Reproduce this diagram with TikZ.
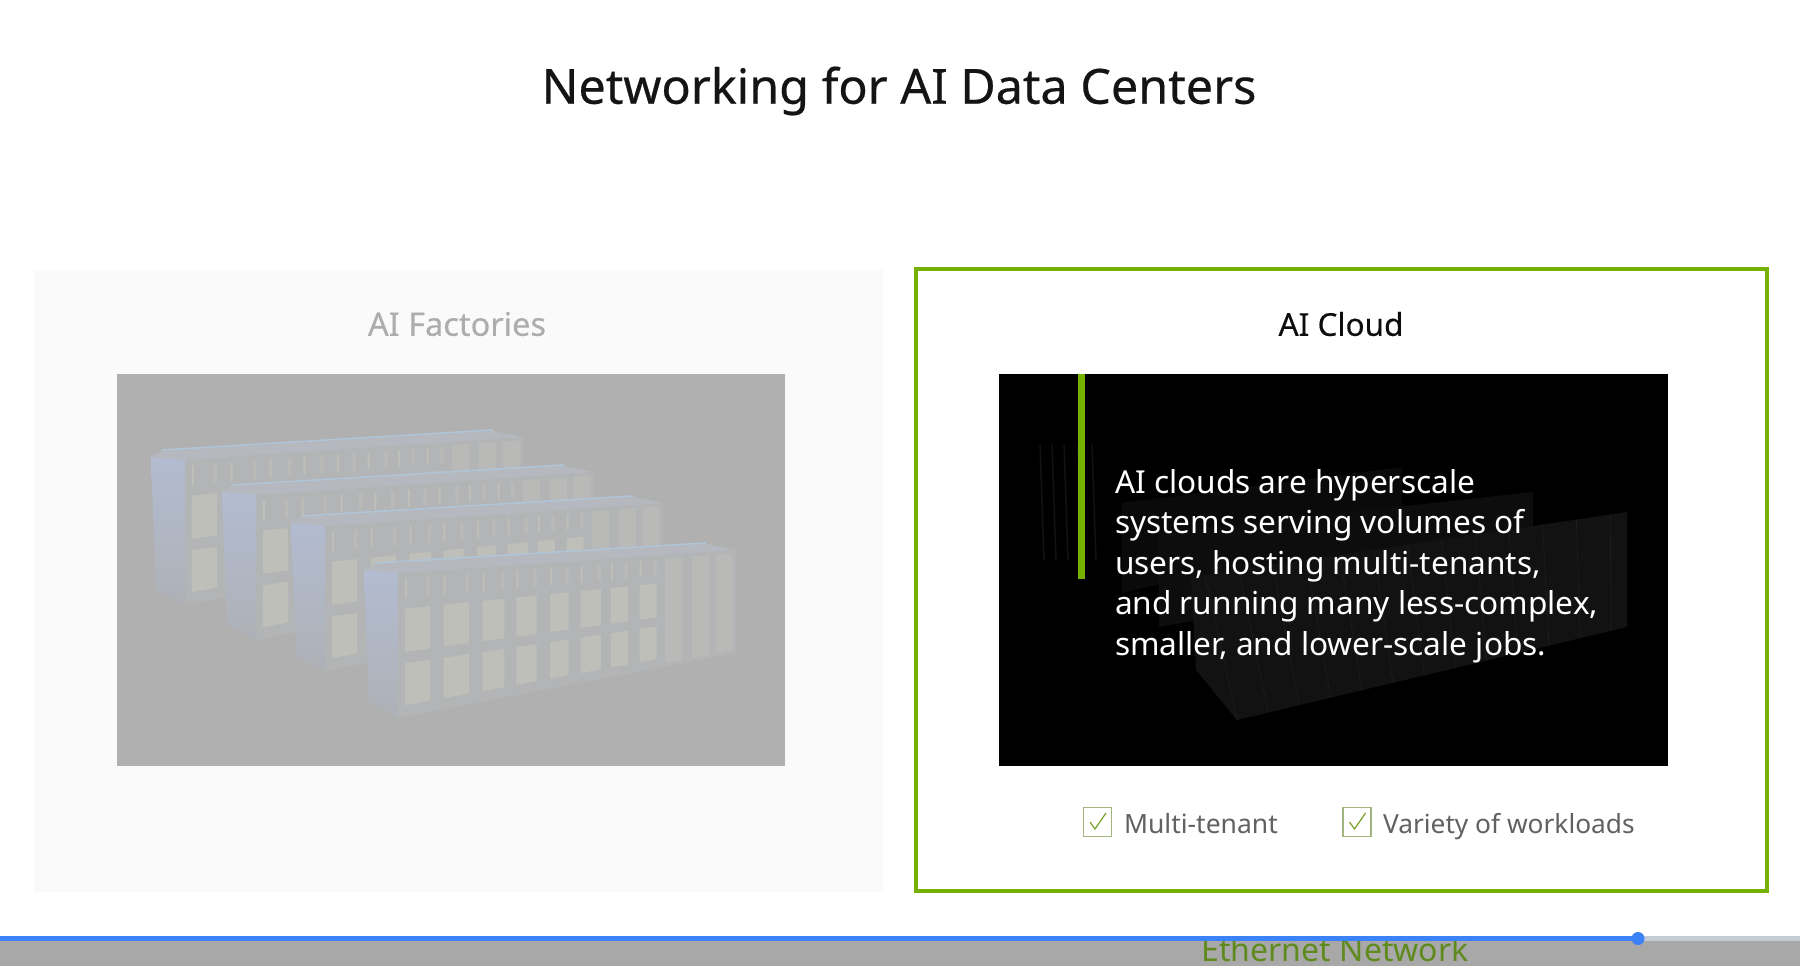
\documentclass[tikz,border=0pt]{standalone}
\usepackage{fontspec}
\setmainfont{Noto Sans}
\definecolor{nvgreen}{HTML}{76B000}
\definecolor{bluebar}{HTML}{3B82F6}
\definecolor{greybar}{HTML}{C5CBD5}
\definecolor{footbar}{HTML}{A8A8A8}
\definecolor{ethertext}{HTML}{5F8A1E}
\definecolor{imggrey}{HTML}{B0B0B0}
\definecolor{rackface}{HTML}{B3B4B5}
\definecolor{rackwin}{HTML}{BFBFBA}
\definecolor{rackstripe}{HTML}{B9B9B7}
\definecolor{racktop}{HTML}{B5B9BF}
\definecolor{rackedge}{HTML}{B0C4D8}
\definecolor{racksidea}{HTML}{B2BBD0}
\definecolor{racksideb}{HTML}{AEB1B6}
\tikzset{
  txt/.style={inner sep=0pt,outer sep=0pt},
  panelbox/.style={fill=#1,draw=none},
  chk/.style={draw=nvgreen!45!gray!70,fill=white,line width=1.6pt},
  chkmark/.style={draw=nvgreen!70!gray,line width=1.2pt},
  darkrack/.style={fill=#1,draw=none}
}
\newcommand{\wnd}[5][rackwin]{%
  \fill[#1] ({398+338*(#2)},{573-23*(#2)+(#4)*(145-42*(#2))})
    -- ({398+338*(#3)},{573-23*(#3)+(#4)*(145-42*(#3))})
    -- ({398+338*(#3)},{573-23*(#3)+(#5)*(145-42*(#3))})
    -- ({398+338*(#2)},{573-23*(#2)+(#5)*(145-42*(#2))}) -- cycle;}
\newcommand{\rackunit}[2]{%
  \begin{scope}[shift={(#1,#2)}]
    \fill[rackface] (398,573) -- (736,550) -- (736,653) -- (398,718) -- cycle;
    \fill[racktop] (364,570) -- (375,564) -- (706,544) -- (736,550) -- (398,573) -- cycle;
    \draw[rackedge,line width=1.6pt] (375,563) -- (706,543);
    \shade[top color=racksidea,bottom color=racksideb] (364,570) -- (398,573) -- (398,718) -- (369,703) -- cycle;
    \foreach \ua/\ub in {.02/.095,.135/.21,.25/.315,.35/.41,.45/.505,.54/.60,.63/.68,.715/.765}{
      \wnd{\ua}{\ub}{.25}{.55}
      \wnd{\ua}{\ub}{.63}{.92}
      \wnd[rackwin]{\ua}{\ua+.006}{.04}{.18}
      \wnd[rackstripe]{\ub-.01}{\ub}{.04}{.18}
    }
    \foreach \ua/\ub in {.79/.84,.87/.92,.94/.99}{
      \wnd[rackstripe]{\ua}{\ub}{.03}{.97}
    }
  \end{scope}}
\begin{document}
\begin{tikzpicture}[x=1pt,y=-1pt]
\useasboundingbox (0,0) rectangle (1800,966);
\fill[white] (0,0) rectangle (1800,966);
% title
\node[txt,font=\fontsize{48.5}{56}\selectfont\addfontfeatures{FakeBold=0.4},text=black!92] (title) at (899,91) {Networking for AI Data Centers};
% panels
\fill[panelbox=black!2] (34,270) rectangle (883,892);
\draw[nvgreen,line width=3.2pt,fill=white] (916,269) rectangle (1767,891);
\node[txt,font=\fontsize{32.5}{38}\selectfont\addfontfeatures{FakeBold=0.3},text=black!32] (factories) at (457,324) {AI Factories};
\node[txt,font=\fontsize{31.5}{38}\selectfont\addfontfeatures{FakeBold=0.3},text=black!95] (cloud) at (1341,324) {AI Cloud};
% left image
\fill[imggrey] (117,374) rectangle (785,766);
\rackunit{-213}{-113}
\rackunit{-142}{-78}
\rackunit{-73}{-47}
\rackunit{0}{0}
% right image
\fill[black] (999,374) rectangle (1668,766);
\begin{scope}
  \clip (999,374) rectangle (1668,766);
  \foreach \xa in {1040,1052,1064,1078,1092}{
    \draw[black!93!white,line width=1.5pt] (\xa,445) -- (\xa+4,560);
  }
  \fill[darkrack=black!96!white] (1122,503) -- (1402,467) -- (1402,527) -- (1122,593) -- cycle;
  \fill[darkrack=black!95!white] (1159,533) -- (1533,492) -- (1533,560) -- (1159,627) -- cycle;
  \fill[darkrack=black!93!white] (1191,577) -- (1627,512) -- (1627,627) -- (1237,720) -- (1196,670) -- cycle;
  \foreach \t in {0,.08,...,1.01}{
    \draw[black!89!white,line width=.8pt]
      ({1205+422*\t},{575-63*\t}) -- ({1237+390*\t},{720-93*\t});
  }
\end{scope}
\fill[nvgreen] (1078,374) rectangle (1085,579);
\node[txt,anchor=north west,align=left,text=white,font=\fontsize{31.6}{40.5}\selectfont] (desc) at (1115,469) {AI clouds are hyperscale\\systems serving volumes of\\users, hosting multi-tenants,\\and running many less-complex,\\smaller, and lower-scale jobs.};
% checkboxes
\node[chk,minimum width=28pt,minimum height=29pt,inner sep=0pt] (boxa) at (1097.5,822) {};
\node[chk,minimum width=28pt,minimum height=29pt,inner sep=0pt] (boxb) at (1357,822) {};
\draw[chkmark] (1090,822) -- (1095,829) -- (1106,813);
\draw[chkmark] (1349.5,822) -- (1354.5,829) -- (1365.5,813);
\node[txt,anchor=base west,font=\fontsize{26.5}{30}\selectfont,text=black!62] (multi) at (1124,833) {Multi-tenant};
\node[txt,anchor=base west,font=\fontsize{26.3}{30}\selectfont,text=black!62] (variety) at (1383,833) {Variety of workloads};
% bottom bar
\fill[footbar] (0,941) rectangle (1800,966);
\begin{scope}
  \clip (0,938) rectangle (1800,966);
  \node[txt,anchor=base,font=\fontsize{32}{38}\selectfont,text=ethertext] (ether) at (1335,961) {Ethernet Network};
\end{scope}
\fill[greybar] (1638,936) rectangle (1800,941);
\fill[bluebar] (0,936) rectangle (1638,941);
\fill[bluebar] (1638,938.5) circle (6.5);
\end{tikzpicture}
\end{document}
